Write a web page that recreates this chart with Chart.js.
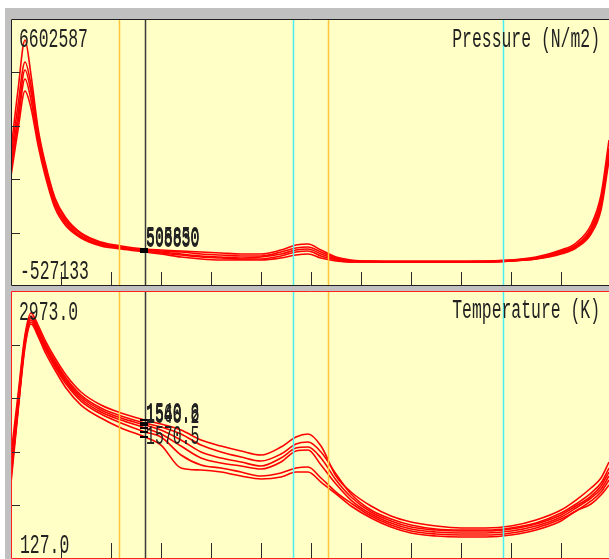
<!DOCTYPE html>
<html><head><meta charset="utf-8">
<script src="https://cdn.jsdelivr.net/npm/chart.js@4.4.0/dist/chart.umd.min.js"></script>
<style>
html,body{margin:0;padding:0;background:#fff;width:609px;height:559px;overflow:hidden;position:relative}
#frame{position:absolute;left:5px;top:8px;width:604px;height:551px;background:#c0c0c0}
canvas{position:absolute;display:block}
#c1{left:11px;top:19px}
#c2{left:11px;top:291px}
</style></head><body>
<div id="frame"></div>
<canvas id="c1" width="598" height="267"></canvas>
<canvas id="c2" width="598" height="268"></canvas>
<script>
// ---- data ----
const positions = [0, 0.14, 0.28, 0.4, 0.54, 0.68, 0.88, 1.1, 1.4, 1.8, 2.2, 2.68, 3.0, 3.4, 3.8, 4.2, 4.6, 5.0, 5.4, 5.7, 5.94, 6.2, 6.5, 6.8, 7.2, 7.6, 8.0, 8.5, 9.0, 9.5, 10.0, 10.5, 11.0, 11.3, 11.6, 11.8, 11.96];

const pressure1 = [3070000, 4997000, 6602587, 5479000, 3776000, 2684000, 1528000, 886000, 404000, 115000, -13000, -110000, -142000, -174000, -206000, -238000, -270000, -270000, -142000, 19000, 51000, -142000, -367000, -463000, -495000, -495000, -495000, -495000, -495000, -495000, -463000, -367000, -142000, 83000, 661000, 1625000, 3391000];
const pressure2 = [2813000, 4515000, 5896000, 5157000, 3648000, 2588000, 1464000, 822000, 372000, 83000, -45000, -142000, -174000, -206000, -270000, -302000, -334000, -334000, -206000, -78000, -45000, -206000, -399000, -495000, -495000, -527133, -527133, -527133, -527133, -495000, -463000, -399000, -174000, 19000, 565000, 1464000, 3134000];
const pressure3 = [2588000, 4194000, 5639000, 4933000, 3519000, 2492000, 1368000, 757000, 308000, 51000, -78000, -142000, -206000, -270000, -334000, -367000, -399000, -367000, -270000, -142000, -110000, -270000, -431000, -495000, -527133, -527133, -527133, -527133, -527133, -527133, -495000, -399000, -206000, -13000, 501000, 1368000, 3006000];
const pressure4 = [2428000, 3969000, 5350000, 4676000, 3391000, 2395000, 1303000, 693000, 276000, 19000, -78000, -174000, -238000, -302000, -367000, -399000, -431000, -431000, -334000, -206000, -174000, -334000, -463000, -527133, -527133, -527133, -527133, -527133, -527133, -527133, -495000, -431000, -238000, -45000, 436000, 1271000, 2877000];
const pressure5 = [2235000, 3712000, 4965000, 4419000, 3230000, 2267000, 1207000, 629000, 244000, -13000, -110000, -206000, -270000, -367000, -431000, -463000, -463000, -463000, -399000, -302000, -270000, -399000, -495000, -527133, -527133, -527133, -527133, -527133, -527133, -527133, -495000, -431000, -270000, -78000, 372000, 1143000, 2749000];

const temperature1 = [1169, 1931, 2694, 2973, 2821, 2630, 2402, 2186, 1970, 1804, 1703, 1614, 1563, 1487, 1360, 1283, 1220, 1169, 1271, 1398, 1436, 1283, 902, 699, 521, 394, 318, 267, 242, 242, 267, 343, 470, 597, 750, 877, 1080];
const temperature2 = [1042, 1868, 2656, 2935, 2783, 2592, 2364, 2148, 1931, 1766, 1665, 1576, 1525, 1436, 1296, 1207, 1144, 1093, 1182, 1309, 1334, 1207, 928, 674, 470, 356, 280, 229, 216, 216, 242, 305, 432, 547, 686, 813, 1004];
const temperature3 = [978, 1804, 2630, 2910, 2757, 2567, 2338, 2122, 1906, 1741, 1639, 1550, 1487, 1360, 1207, 1131, 1080, 1030, 1131, 1258, 1271, 1131, 851, 636, 445, 331, 254, 216, 203, 203, 229, 293, 407, 521, 648, 775, 953];
const temperature4 = [915, 1766, 2605, 2884, 2732, 2541, 2313, 2097, 1881, 1715, 1614, 1512, 1436, 1283, 1131, 1068, 1030, 991, 1080, 1220, 1233, 1042, 801, 597, 420, 305, 229, 191, 178, 178, 203, 267, 381, 496, 623, 737, 902];
const temperature5 = [877, 1741, 2567, 2859, 2707, 2516, 2287, 2071, 1855, 1690, 1576, 1461, 1398, 1169, 1042, 1004, 953, 902, 940, 1004, 1017, 877, 699, 559, 394, 280, 203, 165, 152, 152, 178, 242, 356, 458, 585, 699, 851];
const temperature6 = [813, 1715, 2541, 2834, 2681, 2478, 2249, 2021, 1804, 1639, 1512, 1398, 1296, 1004, 978, 953, 902, 864, 890, 953, 953, 826, 674, 521, 369, 254, 178, 140, 127, 127, 152, 216, 331, 458, 547, 661, 788];

const xTickValues = [1, 2, 3, 4, 5, 6, 7, 8, 9, 10, 11];
const xRange = [0, 11.96];
const pressureRange = [-1297900, 7277000];
const temperatureRange = [-152, 3253];
const pressureLabels = {max: "6602587", min: "-527133", title: "Pressure (N/m2)"};
const temperatureLabels = {max: "2973.0", min: "127.0", title: "Temperature (K)"};
const cursorPositions = [2.16, 2.68, 5.64, 6.34, 9.84];
const activeCursor = 2.68;
const pressureCursorLabels = ["505850", "506650", "508830"];
const temperatureCursorLabels = ["1540.6", "1560.8", "1548.2"];
const temperatureCursorLabelLow = "1570.5";

// ---- styles ----
const cursorColors = ["#ffc43a", "#3a3a3a", "#48eef2", "#ffc43a", "#48eef2"];
const PANEL_BG = "#ffffc6";
const TEXT_COLOR = "#222222";
const FONT = '27px "Liberation Mono"';
const CHAR_W = 9.85;

function drawText(ctx, text, x, y, charW, alignRight) {
  const w = text.length * charW;
  ctx.save();
  ctx.font = FONT;
  ctx.fillStyle = TEXT_COLOR;
  ctx.textAlign = 'left';
  ctx.textBaseline = 'alphabetic';
  ctx.fillText(text, alignRight ? x - w : x, y, w);
  ctx.restore();
}

function panelPlugin(cfg) {
  return {
    id: 'panel_' + cfg.name,
    beforeDraw(chart) {
      const ctx = chart.ctx, a = chart.chartArea;
      ctx.save();
      ctx.fillStyle = PANEL_BG;
      ctx.fillRect(a.left, a.top, a.right - a.left, a.bottom - a.top);
      ctx.restore();
    },
    afterDatasetsDraw(chart) {
      const ctx = chart.ctx, a = chart.chartArea;
      const xs = chart.scales.x, ys = chart.scales.y;
      ctx.save();
      // cursor lines
      cursorPositions.forEach((v, i) => {
        const px = Math.round(xs.getPixelForValue(v)) + 0.5;
        ctx.strokeStyle = cursorColors[i];
        ctx.lineWidth = 1.5;
        ctx.beginPath(); ctx.moveTo(px, a.top); ctx.lineTo(px, a.bottom); ctx.stroke();
      });
      // markers where curves cross the active cursor
      const ci = positions.indexOf(activeCursor);
      const cx = xs.getPixelForValue(activeCursor);
      ctx.strokeStyle = "#000";
      ctx.lineWidth = 2;
      chart.data.datasets.forEach(ds => {
        const py = ys.getPixelForValue(ds.data[ci].y);
        ctx.beginPath(); ctx.moveTo(cx - 5, py); ctx.lineTo(cx + 3, py); ctx.stroke();
      });
      // ticks
      ctx.strokeStyle = "#2a2a2a";
      ctx.lineWidth = 1;
      xTickValues.forEach(v => {
        const px = Math.round(xs.getPixelForValue(v)) + 0.5;
        ctx.beginPath(); ctx.moveTo(px, a.bottom); ctx.lineTo(px, a.bottom - cfg.tickLen); ctx.stroke();
      });
      [1, 2, 3, 4].forEach(k => {
        const v = ys.min + k * (ys.max - ys.min) / 5;
        const py = Math.round(ys.getPixelForValue(v)) + 0.5;
        ctx.beginPath(); ctx.moveTo(a.left, py); ctx.lineTo(a.left + 9, py); ctx.stroke();
      });
      // border (left, top, bottom)
      ctx.strokeStyle = cfg.border;
      ctx.lineWidth = 1;
      ctx.beginPath();
      ctx.moveTo(a.right + 1, a.top + 0.5); ctx.lineTo(a.left + 0.5, a.top + 0.5);
      ctx.lineTo(a.left + 0.5, a.bottom - 0.5); ctx.lineTo(a.right + 1, a.bottom - 0.5);
      ctx.stroke();
      ctx.restore();
      // texts
      drawText(ctx, cfg.labels.max, a.left + 8, a.top + cfg.maxBase, CHAR_W, false);
      drawText(ctx, cfg.labels.min, a.left + 9, a.top + cfg.minBase, CHAR_W, false);
      drawText(ctx, cfg.labels.title, a.left + 589, a.top + cfg.titleBase, CHAR_W, true);
      cfg.cursorText(ctx, cx);
    }
  };
}

function makeChart(id, series, range, cfg) {
  const datasets = series.map(s => ({
    data: positions.map((x, i) => ({x, y: s[i]})),
    borderColor: "#ff0000",
    borderWidth: 1.6,
    pointRadius: 0,
    cubicInterpolationMode: 'monotone',
    fill: false
  }));
  return new Chart(document.getElementById(id), {
    type: 'line',
    data: {datasets},
    options: {
      responsive: false,
      animation: false,
      devicePixelRatio: 1,
      layout: {padding: 0},
      events: [],
      plugins: {legend: {display: false}, tooltip: {enabled: false}},
      scales: {
        x: {type: 'linear', min: xRange[0], max: xRange[1], display: false},
        y: {type: 'linear', min: range[0], max: range[1], display: false}
      }
    },
    plugins: [panelPlugin(cfg)]
  });
}

makeChart('c1', [pressure1, pressure2, pressure3, pressure4, pressure5], pressureRange, {
  name: 'p', border: "#202020", tickLen: 14, labels: pressureLabels,
  maxBase: 28, minBase: 260, titleBase: 28,
  cursorText(ctx, cx) {
    pressureCursorLabels.forEach((t, i) => drawText(ctx, t, cx + 1, 226 + i, 8.9, false));
  }
});
makeChart('c2', [temperature1, temperature2, temperature3, temperature4, temperature5, temperature6], temperatureRange, {
  name: 't', border: "#ff2020", tickLen: 16, labels: temperatureLabels,
  maxBase: 29, minBase: 262, titleBase: 27,
  cursorText(ctx, cx) {
    temperatureCursorLabels.forEach((t, i) => drawText(ctx, t, cx + 1, 130 + i, 8.9, false));
    drawText(ctx, temperatureCursorLabelLow, cx + 1, 153, 8.9, false);
  }
});
</script>
</body></html>
